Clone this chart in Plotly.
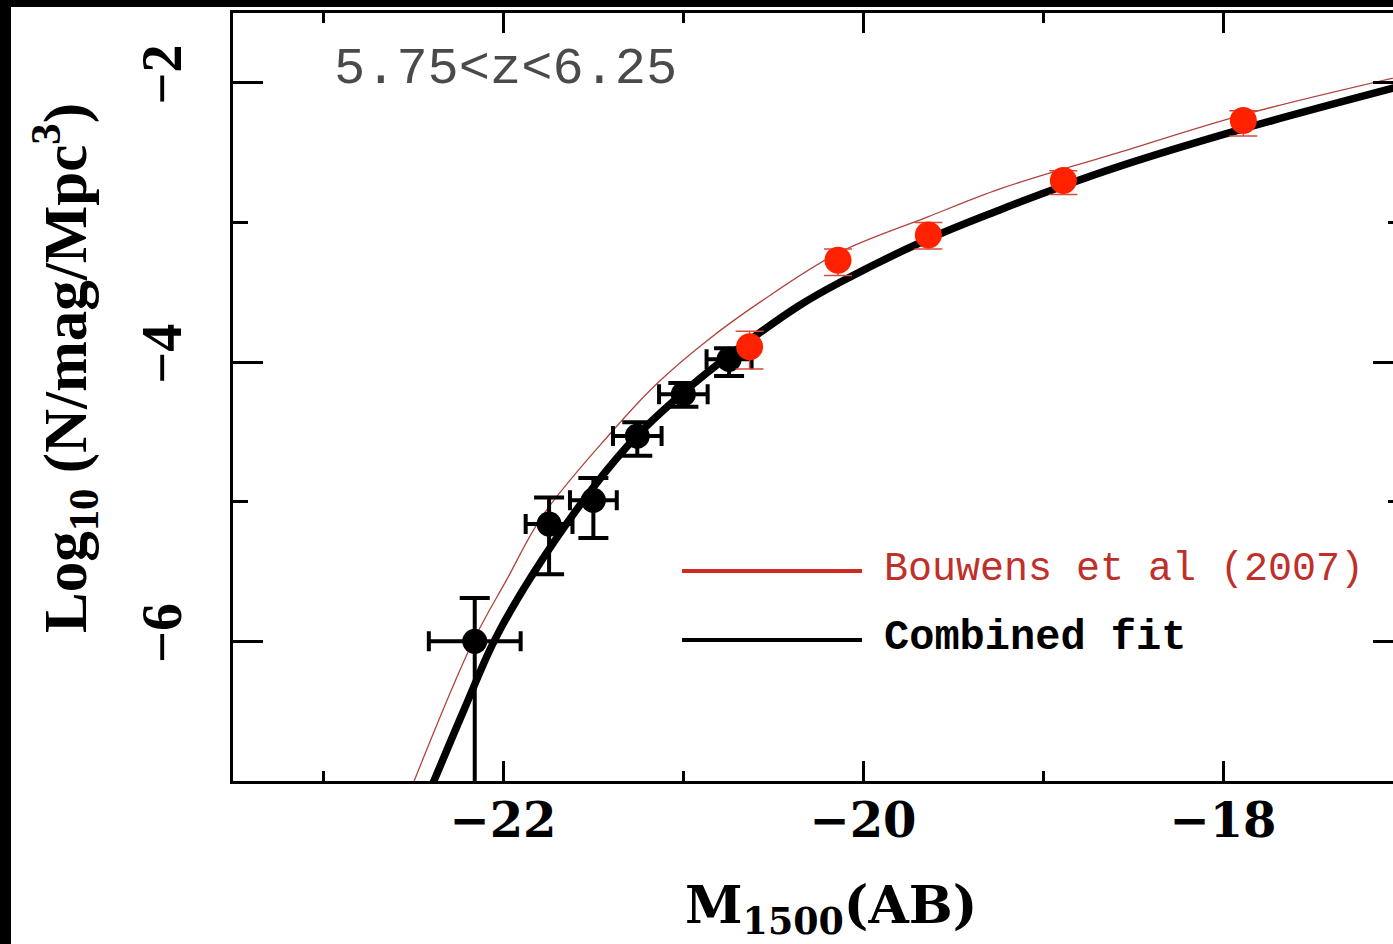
import plotly.graph_objects as go

# ---- data ----
# this work (black points)
blk_mag = [-22.157, -21.744, -21.498, -21.254, -20.998, -20.744]
blk_phi = [-6.00, -5.16, -4.99, -4.53, -4.23, -3.98]
blk_mag_err = [0.255, 0.13, 0.13, 0.135, 0.135, 0.125]
blk_phi_up = [0.31, 0.19, 0.16, 0.10, 0.08, 0.08]
blk_phi_dn = [1.60, 0.36, 0.27, 0.14, 0.09, 0.12]

# Bouwens et al (2007) points (red)
red_mag = [-20.63, -20.139, -19.637, -18.887, -17.887]
red_phi = [-3.89, -3.27, -3.09, -2.70, -2.27]
red_phi_up = [0.11, 0.08, 0.09, 0.07, 0.07]
red_phi_dn = [0.16, 0.11, 0.10, 0.10, 0.11]

# combined fit curve (black, thick)
fit_mag = [-22.40, -22.21, -22.05, -21.84, -21.50, -21.25, -21.00, -20.74,
           -20.36, -20.13, -19.64, -19.24, -18.87, -18.58, -17.89, -17.00]
fit_phi = [-7.05, -6.47, -6.00, -5.53, -4.90, -4.52, -4.22, -3.95,
           -3.60, -3.43, -3.12, -2.91, -2.73, -2.60, -2.33, -2.02]

# Bouwens et al (2007) curve (thin red)
bou_mag = [-22.50, -22.17, -21.98, -21.78, -21.41, -21.15, -20.87, -20.56,
           -20.14, -19.64, -19.24, -18.87, -18.58, -17.89, -17.00]
bou_phi = [-7.02, -6.01, -5.56, -5.10, -4.52, -4.16, -3.85, -3.56,
           -3.22, -2.96, -2.76, -2.61, -2.50, -2.23, -1.95]

x_range = [-23.5, -17.0]
y_range = [-7.0, -1.5]

legend_labels = ["Bouwens et al (2007)", "Combined fit"]
z_label = "5.75&lt;z&lt;6.25"
x_title = "M<sub>1500</sub>(AB)"
y_title = "Log<sub>10</sub> (N/mag/Mpc<sup>3</sup>)"

fig = go.Figure()

fig.add_trace(go.Scatter(x=bou_mag, y=bou_phi, mode="lines",
                         line=dict(color="#b0443c", width=1.3, shape="spline", smoothing=1.0),
                         showlegend=False, hoverinfo="skip"))
fig.add_trace(go.Scatter(x=fit_mag, y=fit_phi, mode="lines",
                         line=dict(color="black", width=7.5, shape="spline", smoothing=1.0),
                         showlegend=False, hoverinfo="skip"))
fig.add_trace(go.Scatter(
    x=blk_mag, y=blk_phi, mode="markers",
    marker=dict(color="black", size=25),
    error_x=dict(type="data", array=blk_mag_err, color="black", thickness=4, width=10),
    error_y=dict(type="data", symmetric=False, array=blk_phi_up, arrayminus=blk_phi_dn,
                 color="black", thickness=4, width=15),
    showlegend=False))
fig.add_trace(go.Scatter(
    x=red_mag, y=red_phi, mode="markers",
    marker=dict(color="#ff2200", size=27),
    error_y=dict(type="data", symmetric=False, array=red_phi_up, arrayminus=red_phi_dn,
                 color="#d84a40", thickness=1.5, width=14),
    showlegend=False))

axis_common = dict(showline=True, linewidth=3, linecolor="black", mirror="ticks",
                   ticks="inside", tickwidth=3, tickcolor="black",
                   showgrid=False, zeroline=False, automargin=False)

fig.update_xaxes(range=x_range, tickmode="linear", tick0=-22, dtick=2, ticklen=20,
                 minor=dict(tick0=-23, dtick=1, ticklen=10, tickwidth=3,
                            tickcolor="black", ticks="inside"),
                 tickfont=dict(family="DejaVu Serif", size=48, color="black", weight="bold"),
                 ticklabelstandoff=-5, **axis_common)
fig.update_yaxes(range=y_range, tickmode="linear", tick0=-2, dtick=2, ticklen=30,
                 minor=dict(tick0=-3, dtick=1, ticklen=15, tickwidth=3,
                            tickcolor="black", ticks="inside"),
                 tickangle=-90,
                 tickfont=dict(family="Liberation Serif", size=56, color="black", weight="bold"),
                 ticklabelstandoff=27, **axis_common)

# legend drawn as lines + text
fig.add_shape(type="line", xref="paper", yref="paper", x0=0.3838, x1=0.5376,
              y0=0.2734, y1=0.2734, line=dict(color="#d02a20", width=4))
fig.add_shape(type="line", xref="paper", yref="paper", x0=0.3838, x1=0.5376,
              y0=0.1836, y1=0.1836, line=dict(color="black", width=4))
fig.add_annotation(xref="paper", yref="paper", x=0.5547, y=0.276, xanchor="left",
                   yanchor="middle", text=legend_labels[0], showarrow=False,
                   font=dict(family="Liberation Mono", size=40, color="#c0302a"))
fig.add_annotation(xref="paper", yref="paper", x=0.5547, y=0.186, xanchor="left",
                   yanchor="middle", text=legend_labels[1], showarrow=False,
                   font=dict(family="Liberation Mono", size=42, color="black", weight="bold"))
fig.add_annotation(xref="paper", yref="paper", x=0.2325, y=0.9258, xanchor="center",
                   yanchor="middle", text=z_label, showarrow=False,
                   font=dict(family="Liberation Mono", size=52, color="#4a4a4a"))

# axis titles
fig.add_annotation(xref="paper", yref="paper", x=0.511, y=-0.166, xanchor="center",
                   yanchor="middle", text=x_title, showarrow=False,
                   font=dict(family="DejaVu Serif", size=52, color="black", weight="bold"))
fig.add_annotation(xref="paper", yref="paper", x=-0.1436, y=0.5378, xanchor="center",
                   yanchor="middle", text=y_title, showarrow=False, textangle=-90,
                   font=dict(family="Liberation Serif", size=61, color="black", weight="bold"))

fig.update_layout(width=1400, height=937,
                  margin=dict(l=222, r=8, t=6, b=163),
                  paper_bgcolor="white", plot_bgcolor="white", showlegend=False)

post = ("document.documentElement.style.background='#000';"
        "document.body.style.background='#000';"
        "document.body.style.margin='7px 0 0 11px';"
        "document.documentElement.style.overflow='hidden';"
        "document.body.style.overflow='hidden';")
fig.write_html("out.html", post_script=post)
